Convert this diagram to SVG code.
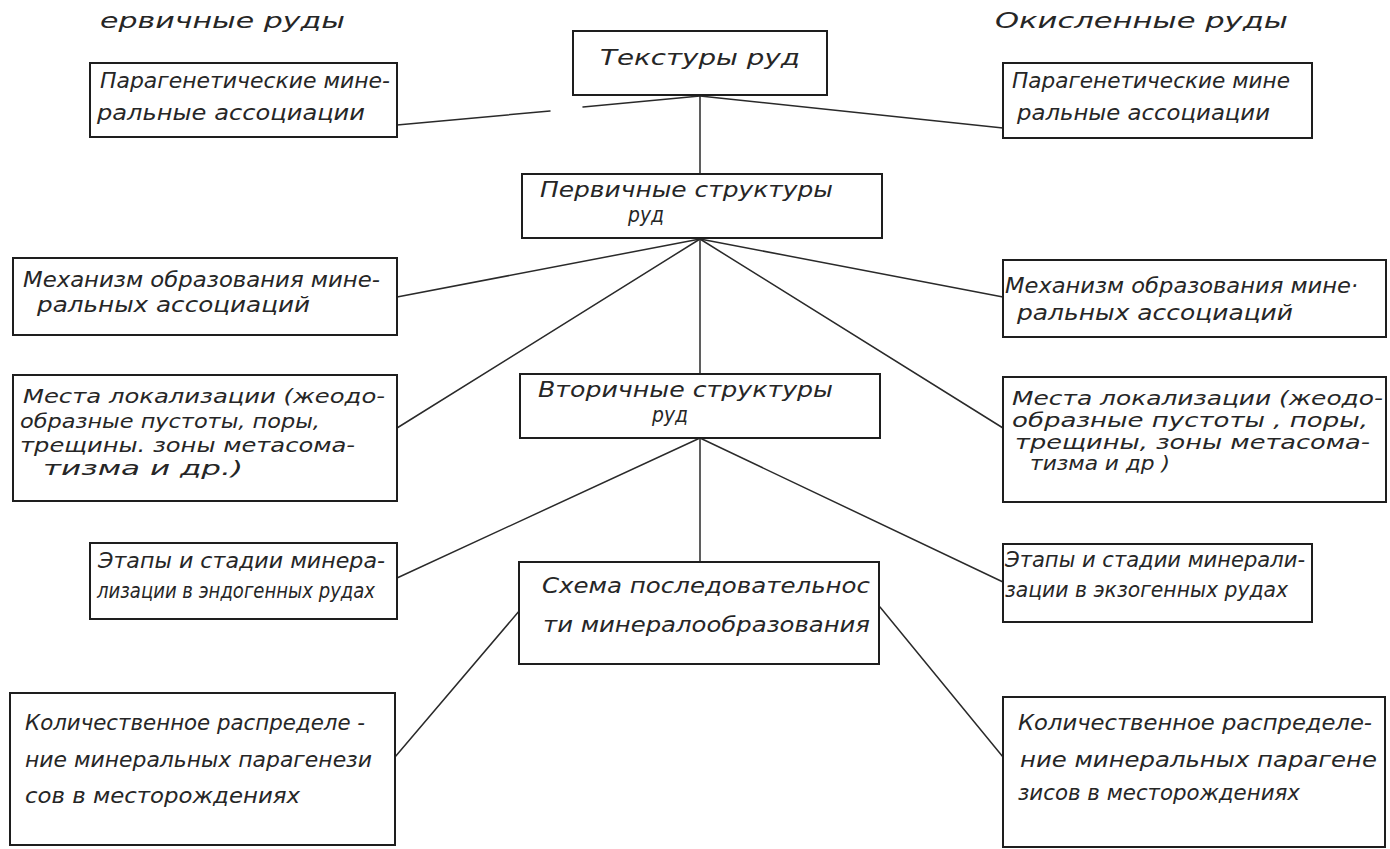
<svg xmlns="http://www.w3.org/2000/svg" width="1390" height="849" viewBox="0 0 1390 849">
<style>
.bg{fill:#ffffff}
.box{fill:#ffffff;stroke:#1e1e1e;stroke-width:2}
.edge{stroke:#2a2a2a;stroke-width:1.5;fill:none;stroke-linecap:round}
text{font-family:"DejaVu Sans","Liberation Sans",sans-serif;font-style:oblique;font-size:21px;fill:#262626}
.s{font-size:19px}
</style>
<rect class="bg" x="0" y="0" width="1390" height="849"/>
<g id="connectors">
<line class="edge" x1="700" y1="96" x2="583" y2="107"/>
<line class="edge" x1="550" y1="111" x2="397" y2="125"/>
<line class="edge" x1="700" y1="96" x2="1003" y2="128"/>
<line class="edge" x1="700" y1="96" x2="700" y2="174"/>
<line class="edge" x1="700" y1="239" x2="397" y2="297"/>
<line class="edge" x1="700" y1="239" x2="397" y2="428"/>
<line class="edge" x1="700" y1="239" x2="1003" y2="297"/>
<line class="edge" x1="700" y1="239" x2="1003" y2="428"/>
<line class="edge" x1="700" y1="239" x2="700" y2="374"/>
<line class="edge" x1="700" y1="438" x2="397" y2="578"/>
<line class="edge" x1="700" y1="438" x2="1003" y2="582"/>
<line class="edge" x1="700" y1="438" x2="700" y2="562"/>
<line class="edge" x1="520" y1="610" x2="395" y2="757"/>
<line class="edge" x1="880" y1="607" x2="1003" y2="757"/>
</g>
<g id="hdr-left"><text x="100" y="28" textLength="245" lengthAdjust="spacingAndGlyphs">ервичные  руды</text></g>
<g id="hdr-right"><text x="995" y="28" textLength="293" lengthAdjust="spacingAndGlyphs">Окисленные  руды</text></g>
<g id="textures">
<rect class="box" x="573" y="31" width="254" height="64"/>
<text x="600" y="65" textLength="200" lengthAdjust="spacingAndGlyphs">Текстуры руд</text>
</g>
<g id="para-left">
<rect class="box" x="90" y="63" width="307" height="74"/>
<text x="100" y="88" textLength="290" lengthAdjust="spacingAndGlyphs">Парагенетические мине-</text>
<text x="97" y="120" textLength="268" lengthAdjust="spacingAndGlyphs">ральные  ассоциации</text>
</g>
<g id="para-right">
<rect class="box" x="1003" y="63" width="309" height="75"/>
<text x="1012" y="88" textLength="278" lengthAdjust="spacingAndGlyphs">Парагенетические мине</text>
<text x="1017" y="120" textLength="253" lengthAdjust="spacingAndGlyphs">ральные  ассоциации</text>
</g>
<g id="primary">
<rect class="box" x="522" y="174" width="360" height="64"/>
<text x="540" y="197" textLength="293" lengthAdjust="spacingAndGlyphs">Первичные  структуры</text>
<text x="628" y="222" textLength="36" lengthAdjust="spacingAndGlyphs">руд</text>
</g>
<g id="mech-left">
<rect class="box" x="13" y="258" width="384" height="77"/>
<text x="23" y="287" textLength="357" lengthAdjust="spacingAndGlyphs">Механизм образования  мине-</text>
<text x="37" y="312" textLength="273" lengthAdjust="spacingAndGlyphs">ральных  ассоциаций</text>
</g>
<g id="mech-right">
<rect class="box" x="1003" y="260" width="383" height="77"/>
<text x="1005" y="293" textLength="353" lengthAdjust="spacingAndGlyphs">Механизм образования мине·</text>
<text x="1017" y="320" textLength="276" lengthAdjust="spacingAndGlyphs">ральных  ассоциаций</text>
</g>
<g id="loc-left">
<rect class="box" x="13" y="375" width="384" height="126"/>
<text class="s" x="23" y="403" textLength="362" lengthAdjust="spacingAndGlyphs">Места  локализации (жеодо-</text>
<text class="s" x="20" y="428" textLength="300" lengthAdjust="spacingAndGlyphs">образные пустоты, поры,</text>
<text class="s" x="20" y="452" textLength="335" lengthAdjust="spacingAndGlyphs">трещины. зоны метасома-</text>
<text class="s" x="43" y="475" textLength="200" lengthAdjust="spacingAndGlyphs">тизма  и др.)</text>
</g>
<g id="loc-right">
<rect class="box" x="1003" y="377" width="383" height="125"/>
<text class="s" x="1012" y="405" textLength="371" lengthAdjust="spacingAndGlyphs">Места  локализации (жеодо-</text>
<text class="s" x="1012" y="427" textLength="356" lengthAdjust="spacingAndGlyphs">образные  пустоты , поры,</text>
<text class="s" x="1015" y="449" textLength="355" lengthAdjust="spacingAndGlyphs">трещины, зоны метасома-</text>
<text class="s" x="1030" y="470" textLength="140" lengthAdjust="spacingAndGlyphs">тизма  и др )</text>
</g>
<g id="secondary">
<rect class="box" x="520" y="374" width="360" height="64"/>
<text x="538" y="397" textLength="295" lengthAdjust="spacingAndGlyphs">Вторичные структуры</text>
<text x="652" y="422" textLength="36" lengthAdjust="spacingAndGlyphs">руд</text>
</g>
<g id="stages-left">
<rect class="box" x="90" y="543" width="307" height="76"/>
<text x="98" y="568" textLength="287" lengthAdjust="spacingAndGlyphs">Этапы  и стадии минера-</text>
<text x="97" y="598" textLength="278" lengthAdjust="spacingAndGlyphs">лизации в эндогенных рудах</text>
</g>
<g id="stages-right">
<rect class="box" x="1003" y="544" width="309" height="78"/>
<text x="1005" y="567" textLength="300" lengthAdjust="spacingAndGlyphs">Этапы и стадии  минерали-</text>
<text x="1005" y="597" textLength="283" lengthAdjust="spacingAndGlyphs">зации  в экзогенных рудах</text>
</g>
<g id="scheme">
<rect class="box" x="519" y="562" width="360" height="102"/>
<text x="542" y="593" textLength="328" lengthAdjust="spacingAndGlyphs">Схема  последовательнос</text>
<text x="543" y="632" textLength="327" lengthAdjust="spacingAndGlyphs">ти  минералообразования</text>
</g>
<g id="quant-left">
<rect class="box" x="10" y="693" width="385" height="152"/>
<text x="25" y="730" textLength="340" lengthAdjust="spacingAndGlyphs">Количественное распределе -</text>
<text x="25" y="767" textLength="347" lengthAdjust="spacingAndGlyphs">ние минеральных  парагенези</text>
<text x="25" y="803" textLength="275" lengthAdjust="spacingAndGlyphs">сов в месторождениях</text>
</g>
<g id="quant-right">
<rect class="box" x="1003" y="697" width="382" height="150"/>
<text x="1018" y="730" textLength="354" lengthAdjust="spacingAndGlyphs">Количественное  распределе-</text>
<text x="1020" y="767" textLength="357" lengthAdjust="spacingAndGlyphs">ние  минеральных  парагене</text>
<text x="1018" y="800" textLength="282" lengthAdjust="spacingAndGlyphs">зисов в месторождениях</text>
</g>
</svg>
